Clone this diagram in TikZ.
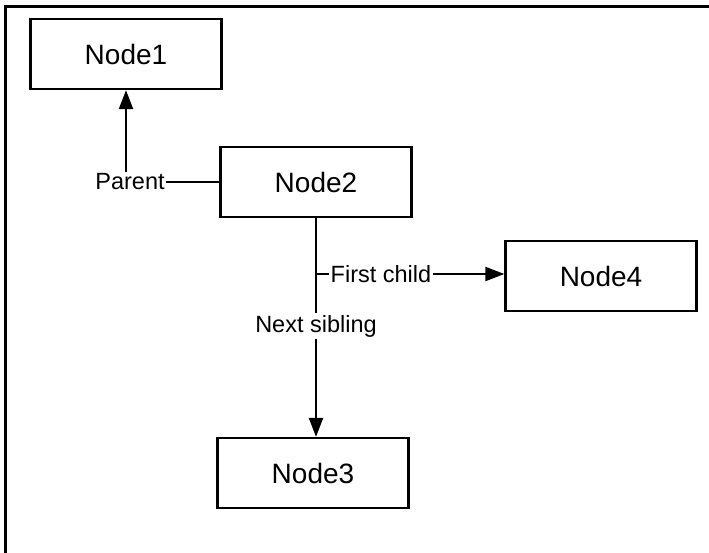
\documentclass[tikz,border=0pt]{standalone}
\usepackage{fontspec}
\setmainfont{Liberation Sans}
\usetikzlibrary{arrows.meta}
\begin{document}
\begin{tikzpicture}[x=1pt,y=-1pt,
  box/.style={draw,line width=2.3pt,minimum width=191pt,minimum height=70pt,
    inner sep=0pt,font=\fontsize{28}{31}\selectfont},
  lbl/.style={inner sep=1.5pt,font=\fontsize{23.5}{26}\selectfont},
  conn/.style={line width=2.2pt},
  arr/.style={conn,-{Triangle[length=19pt,width=14pt]}}]
  \useasboundingbox (0,0) rectangle (709,553);
  % frame lines along the top and left edges
  \coordinate (tl) at (5,7);
  \coordinate (tr) at (709,7);
  \coordinate (bl) at (5,553);
  \draw[line width=3pt] (tr) -- (tl) -- (bl);

  % tree nodes
  \node[box] (n1) at (126,54)  {Node1};
  \node[box] (n2) at (316,182) {Node2};
  \node[box] (n4) at (601,276) {Node4};
  \node[box] (n3) at (313,473) {Node3};

  % link labels
  \node[lbl] (parent) at (130,182) {Parent};
  \node[lbl] (fc)     at (381,274) {First child};
  \node[lbl] (sib)    at (316,326) {Next sibling};

  % parent link
  \draw[conn] (n2.west) -- (parent.east);
  \draw[arr] (parent.north -| n1.south) -- (n1.south);

  % first child link
  \draw[conn] (n2.south) -- (sib.north);
  \draw[conn] (fc.west -| n2.south) -- (fc.west);
  \draw[arr] (fc.east) -- (fc.east -| n4.west);

  % next sibling link
  \draw[arr] (sib.south) -- (sib.south |- n3.north);
\end{tikzpicture}
\end{document}
